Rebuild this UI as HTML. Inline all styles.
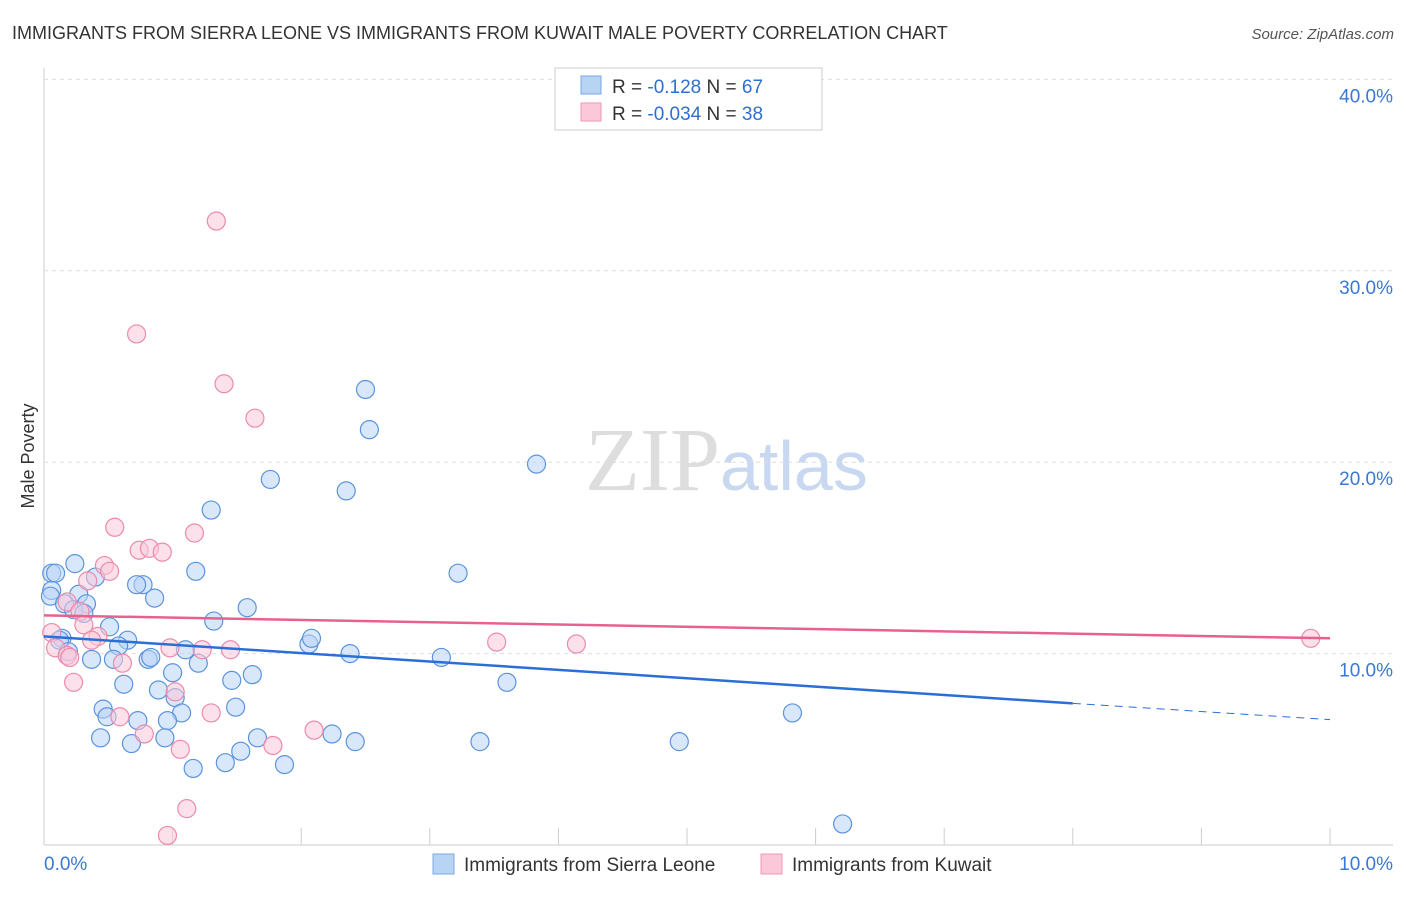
<!DOCTYPE html>
<html><head><meta charset="utf-8"><style>
body{margin:0;background:#fff;font-family:"Liberation Sans",sans-serif;}
</style></head><body>
<svg id="c" width="1406" height="892" xmlns="http://www.w3.org/2000/svg" font-family="Liberation Sans, sans-serif">
<text x="12" y="39" font-size="18" fill="#333">IMMIGRANTS FROM SIERRA LEONE VS IMMIGRANTS FROM KUWAIT MALE POVERTY CORRELATION CHART</text>
<text x="1394" y="39" font-size="15" fill="#555" font-style="italic" text-anchor="end">Source: ZipAtlas.com</text>
<text x="720" y="490" font-size="90" fill="#ddd" text-anchor="end" font-family="Liberation Serif, serif">ZIP</text>
<text x="720" y="490" font-size="70" fill="#c8d8f0">atlas</text>
<text x="34" y="456" font-size="18" fill="#333" text-anchor="middle" transform="rotate(-90 34 456)">Male Poverty</text>
<g id="grid"></g><g id="pts"></g><g id="lines"></g>
<g>
<rect x="555" y="68" width="267" height="62" fill="#fff" stroke="#ccc"/>
<rect x="581" y="76" width="20" height="18" fill="#b8d4f5" stroke="#7aa8e0"/>
<rect x="581" y="103" width="20" height="18" fill="#fac8d8" stroke="#ee99b5"/>
<text x="612" y="93" font-size="19" fill="#333">R = <tspan fill="#2f6fd0"> -0.128</tspan>   N = <tspan fill="#2f6fd0">67</tspan></text>
<text x="612" y="120" font-size="19" fill="#333">R = <tspan fill="#2f6fd0">-0.034</tspan>   N = <tspan fill="#2f6fd0">38</tspan></text>
</g>
<g>
<rect x="433" y="854" width="21" height="20" fill="#b8d4f5" stroke="#7aa8e0"/>
<text x="464" y="871" font-size="19" fill="#333">Immigrants from Sierra Leone</text>
<rect x="761" y="854" width="21" height="20" fill="#fac8d8" stroke="#ee99b5"/>
<text x="792" y="871" font-size="19" fill="#333">Immigrants from Kuwait</text>
</g>
</svg>
<script>
const yTicks=[10,20,30,40];
const xTickLabels=["0.0%","10.0%"];
const blueX=[0.06,0.09,0.06,0.05,0.24,0.27,0.40,0.33,0.16,0.23,0.31,0.14,0.12,0.51,0.65,0.58,0.19,0.37,0.54,0.81,0.83,0.62,0.89,1.00,1.02,1.07,0.96,0.73,0.46,0.49,0.44,0.68,0.94,1.16,1.41,1.53,1.66,1.87,1.49,1.46,1.62,1.20,1.10,1.32,1.58,1.18,1.30,1.76,0.77,0.72,0.86,2.06,2.08,2.38,2.35,2.50,2.53,3.83,3.22,3.09,3.60,3.39,2.24,2.42,4.94,5.82,6.21];
const blueY=[14.2,14.2,13.3,13.0,14.7,13.1,14.0,12.6,12.6,12.3,12.1,10.8,10.7,11.4,10.7,10.4,10.1,9.7,9.7,9.7,9.8,8.4,8.1,9.0,7.7,6.9,6.5,6.5,7.1,6.7,5.6,5.3,5.6,4.0,4.3,4.9,5.6,4.2,7.2,8.6,8.9,9.5,10.2,11.7,12.4,14.3,17.5,19.1,13.6,13.6,12.9,10.5,10.8,10.0,18.5,23.8,21.7,19.9,14.2,9.8,8.5,5.4,5.8,5.4,5.4,6.9,1.1];
const pinkX=[1.34,0.72,1.40,1.64,0.55,0.74,0.82,0.92,1.17,0.47,0.51,0.34,0.18,0.28,0.31,0.42,0.37,0.06,0.09,0.18,0.20,0.61,0.98,1.23,1.45,0.23,0.59,0.78,1.02,1.06,1.30,1.78,2.10,1.11,0.96,3.52,4.14,9.85];
const pinkY=[32.6,26.7,24.1,22.3,16.6,15.4,15.5,15.3,16.3,14.6,14.3,13.8,12.7,12.2,11.5,10.9,10.7,11.1,10.3,9.9,9.8,9.5,10.3,10.2,10.2,8.5,6.7,5.8,8.0,5.0,6.9,5.2,6.0,1.9,0.5,10.6,10.5,10.8];
const blueTrend=[[0,10.9],[8,7.4]], blueDash=[[8,7.4],[10,6.55]];
const pinkTrend=[[0,12.0],[10,10.8]];
const NS="http://www.w3.org/2000/svg";
const X=v=>44+v*128.6, Y=v=>845-v*19.14;
function mk(t,a,p){const e=document.createElementNS(NS,t);for(const k in a)e.setAttribute(k,a[k]);p.appendChild(e);return e;}
const grid=document.getElementById('grid');
mk('line',{x1:44,y1:68,x2:44,y2:845,stroke:'#ccc'},grid);
mk('line',{x1:44,y1:845,x2:1393,y2:845,stroke:'#ccc'},grid);
yTicks.forEach(t=>{
 const l=mk('line',{x1:44,y1:Y(t),x2:1393,y2:Y(t),stroke:'#ddd','stroke-dasharray':'4,4'},grid);
 
 
 const tx=mk('text',{x:1393,y:Y(t)+23,'font-size':19,fill:'#3a78d4','text-anchor':'end'},grid);
 tx.textContent=t.toFixed(1)+'%';
 
 
});
for(let i=0;i<=10;i++){const l=mk('line',{x1:X(i),y1:828,x2:X(i),y2:845,stroke:'#ccc'},grid);
 
 }
[[0,'start',44],[1,'end',1393]].forEach(([i,a,x])=>{const t=mk('text',{x:x,y:870,'font-size':19,fill:'#3a78d4','text-anchor':a},grid);t.textContent=xTickLabels[i];
 
 });
const pts=document.getElementById('pts');
function dots(xs,ys,f,s,n){xs.forEach((v,i)=>{const c=mk('circle',{cx:X(v),cy:Y(ys[i]),r:9,fill:f,'fill-opacity':0.55,stroke:s,'stroke-width':1.2},pts);
 
 });}
dots(blueX,blueY,'#b8d4f5','#5b94dd','point-sierra-leone');
dots(pinkX,pinkY,'#fac8d8','#ec8aab','point-kuwait');
const lines=document.getElementById('lines');
function ln(p,c,d,n){const l=mk('line',{x1:X(p[0][0]),y1:Y(p[0][1]),x2:X(p[1][0]),y2:Y(p[1][1]),stroke:c,'stroke-width':d?1:2.5},lines);if(d)l.setAttribute('stroke-dasharray','8,6');
 
 }
ln(blueTrend,'#2a6fd6',false,'trend-sierra-leone');
ln(blueDash,'#2a6fd6',true,'trend-sierra-leone-extrapolated');
ln(pinkTrend,'#e8618e',false,'trend-kuwait');
</script>
</body></html>
